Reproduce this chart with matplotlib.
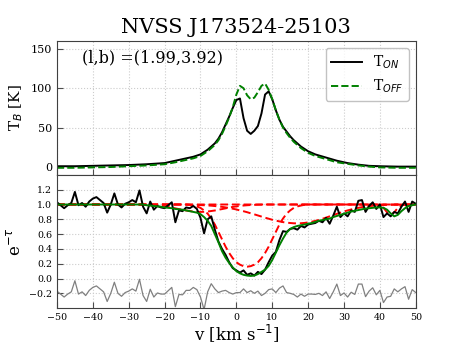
import matplotlib
matplotlib.use("Agg")
import matplotlib.pyplot as plt
import numpy as np

plt.rcParams['font.family'] = 'DejaVu Serif'
plt.rcParams['mathtext.fontset'] = 'dejavusans'

# emission spectra (top panel)
v_em = [-50, -45, -40, -35, -30, -25, -20, -17, -14, -12, -10, -8, -6, -5, -4, -3, -2, -1,
        0, 1, 2, 3, 4, 5, 6, 7, 8, 9, 10, 11, 12, 13, 14, 15, 16, 18, 20, 22, 25, 28, 31,
        34, 37, 40, 45, 50]
t_on = [1, 1, 1.5, 2, 2.5, 3.5, 5, 8, 11, 13, 16, 22, 30, 36, 44, 54, 64, 75,
        85, 87, 62, 46, 42, 46, 52, 68, 92, 96, 86, 72, 60, 51, 45, 39, 34, 26, 20, 16, 12, 8, 5,
        3, 1.5, 1, 0.5, 0.5]
t_off = [-1, -1, -0.5, 0, 1, 2, 3.5, 6, 9, 11, 14, 20, 28, 34, 42, 52, 63, 76,
         92, 103, 100, 91, 86, 88, 95, 103, 106, 98, 86, 72, 60, 50, 43, 37, 32, 24, 18, 14, 10, 6, 4,
         2, 0.5, -0.5, -1, -1]

# absorption spectrum (bottom panel), v = -50 .. 50 km/s
v_abs = np.arange(-50, 51)
etau = [1.03, 0.99, 0.95, 0.99, 1.02, 1.17, 0.99, 1.02, 0.97, 1.04,
        1.08, 1.10, 1.06, 1.02, 0.89, 1.00, 1.15, 1.00, 0.96, 1.01,
        1.03, 1.06, 1.03, 1.19, 0.97, 0.88, 1.04, 0.93, 0.98, 0.96,
        0.95, 0.99, 1.03, 0.76, 0.92, 0.91, 0.96, 0.95, 0.98, 0.94,
        0.82, 0.61, 0.80, 0.84, 0.66, 0.50, 0.40, 0.32, 0.22, 0.14,
        0.11, 0.08, 0.11, 0.05, 0.07, 0.04, 0.09, 0.06, 0.12, 0.22,
        0.31, 0.36, 0.52, 0.64, 0.63, 0.67, 0.68, 0.66, 0.71, 0.69,
        0.73, 0.74, 0.75, 0.78, 0.76, 0.82, 0.74, 0.85, 0.97, 0.83,
        0.88, 0.84, 0.92, 0.90, 1.05, 1.06, 0.90, 0.98, 1.03, 0.94,
        1.00, 0.83, 0.88, 0.84, 0.90, 0.88, 0.97, 1.04, 0.90, 1.04, 1.01]
fit = [1.0] * 25 + [0.99, 0.985, 0.98, 0.975, 0.97, 0.96, 0.955, 0.95, 0.94, 0.935,
       0.93, 0.92, 0.91, 0.90, 0.89, 0.87, 0.83, 0.78, 0.71, 0.60,
       0.49, 0.37, 0.28, 0.21, 0.15, 0.10, 0.07, 0.05, 0.04, 0.035,
       0.04, 0.06, 0.09, 0.12, 0.17, 0.25, 0.35, 0.45, 0.54, 0.62,
       0.67, 0.695, 0.71, 0.72, 0.73, 0.74, 0.75, 0.765, 0.78, 0.79,
       0.80, 0.81, 0.83, 0.845, 0.86, 0.875, 0.89, 0.905, 0.915, 0.925,
       0.935, 0.945, 0.95, 0.955, 0.96, 0.96, 0.955, 0.93, 0.88, 0.84,
       0.86, 0.91, 0.95, 0.98, 0.99, 1.0]
comp1 = [1.0] * 37 + [0.996, 0.986, 0.974, 0.954, 0.92, 0.876, 0.81, 0.73, 0.63, 0.53,
         0.43, 0.345, 0.274, 0.22, 0.187, 0.167, 0.16, 0.167, 0.187, 0.22,
         0.274, 0.345, 0.43, 0.53, 0.63, 0.73, 0.81, 0.876, 0.92, 0.954,
         0.974, 0.986, 0.996] + [1.0] * 31
comp2 = [1.0] * 23 + [0.998, 0.997, 0.995, 0.993, 0.99, 0.986, 0.981, 0.974, 0.967, 0.958,
         0.948, 0.938, 0.929, 0.919, 0.912, 0.905, 0.901, 0.90, 0.901, 0.905,
         0.912, 0.919, 0.929, 0.938, 0.948, 0.958, 0.967, 0.974, 0.981, 0.986,
         0.99, 0.993, 0.995, 0.997, 0.998] + [1.0] * 43
comp3 = [1.0] * 35 + [0.999, 0.998, 0.997, 0.996, 0.994, 0.992, 0.99, 0.987, 0.984, 0.979,
         0.974, 0.968, 0.961, 0.953, 0.943, 0.933, 0.92, 0.909, 0.896, 0.881,
         0.867, 0.852, 0.837, 0.822, 0.808, 0.794, 0.782, 0.772, 0.762, 0.755,
         0.75, 0.746, 0.745, 0.747, 0.751, 0.758, 0.767, 0.779, 0.792, 0.807,
         0.823, 0.84, 0.857, 0.874, 0.89, 0.906, 0.92, 0.933, 0.945, 0.955,
         0.964, 0.972, 0.978, 0.983, 0.987, 0.99, 0.993, 0.995, 0.996, 0.997,
         0.998, 0.999, 1.0, 1.0, 1.0, 1.0]
comp4 = [1.0] * 90 + [0.99, 0.955, 0.894, 0.86, 0.894, 0.955, 0.99, 1.0, 1.0, 1.0, 1.0]

resid = np.array(etau) - np.array(fit) - 0.2

fig = plt.figure(figsize=(4.63, 3.47), dpi=100)
ax1 = fig.add_axes([0.123, 0.496, 0.775, 0.386])
ax2 = fig.add_axes([0.123, 0.112, 0.775, 0.384], sharex=ax1)

ax1.plot(v_em, t_on, color='black', lw=1.4, label=r'T$_{ON}$')
ax1.plot(v_em, t_off, color='green', lw=1.4, ls='--', label=r'T$_{OFF}$')
ax1.set_ylim(-10, 160)
ax1.set_yticks([0, 50, 100, 150])
ax1.set_ylabel(r'T$_B$ [K]', fontsize=11)
ax1.set_title('NVSS J173524-25103', fontsize=15)
ax1.text(0.07, 0.84, '(l,b) =(1.99,3.92)', transform=ax1.transAxes, fontsize=11.5)
ax1.legend(loc='upper right', fontsize=10, handlelength=2.2, edgecolor='0.7')
ax1.tick_params(labelbottom=False, labelsize=8)

for comp in (comp1, comp2, comp3, comp4):
    ax2.plot(v_abs, comp, color='red', lw=1.4, dashes=(4, 2))
ax2.plot(v_abs, etau, color='black', lw=1.4)
ax2.plot(v_abs, fit, color='green', lw=1.4)
ax2.plot(v_abs, resid, color='gray', lw=0.9)
ax2.set_xlim(-50, 50)
ax2.set_ylim(-0.4, 1.4)
ax2.set_yticks([-0.2, 0.0, 0.2, 0.4, 0.6, 0.8, 1.0, 1.2])
ax2.set_xticks(np.arange(-50, 51, 10))
ax2.set_ylabel(r'e$^{-\tau}$', fontsize=12)
ax2.set_xlabel(r'v [km s$^{-1}$]', fontsize=12, labelpad=0)
ax2.tick_params(labelsize=6.8)

for ax in (ax1, ax2):
    ax.grid(True, ls=':', color='#cccccc', lw=0.8)
    ax.tick_params(direction='in', length=4, color='0.3')
    for sp in ax.spines.values():
        sp.set_color('0.25')

plt.savefig('out.png', dpi=100)
